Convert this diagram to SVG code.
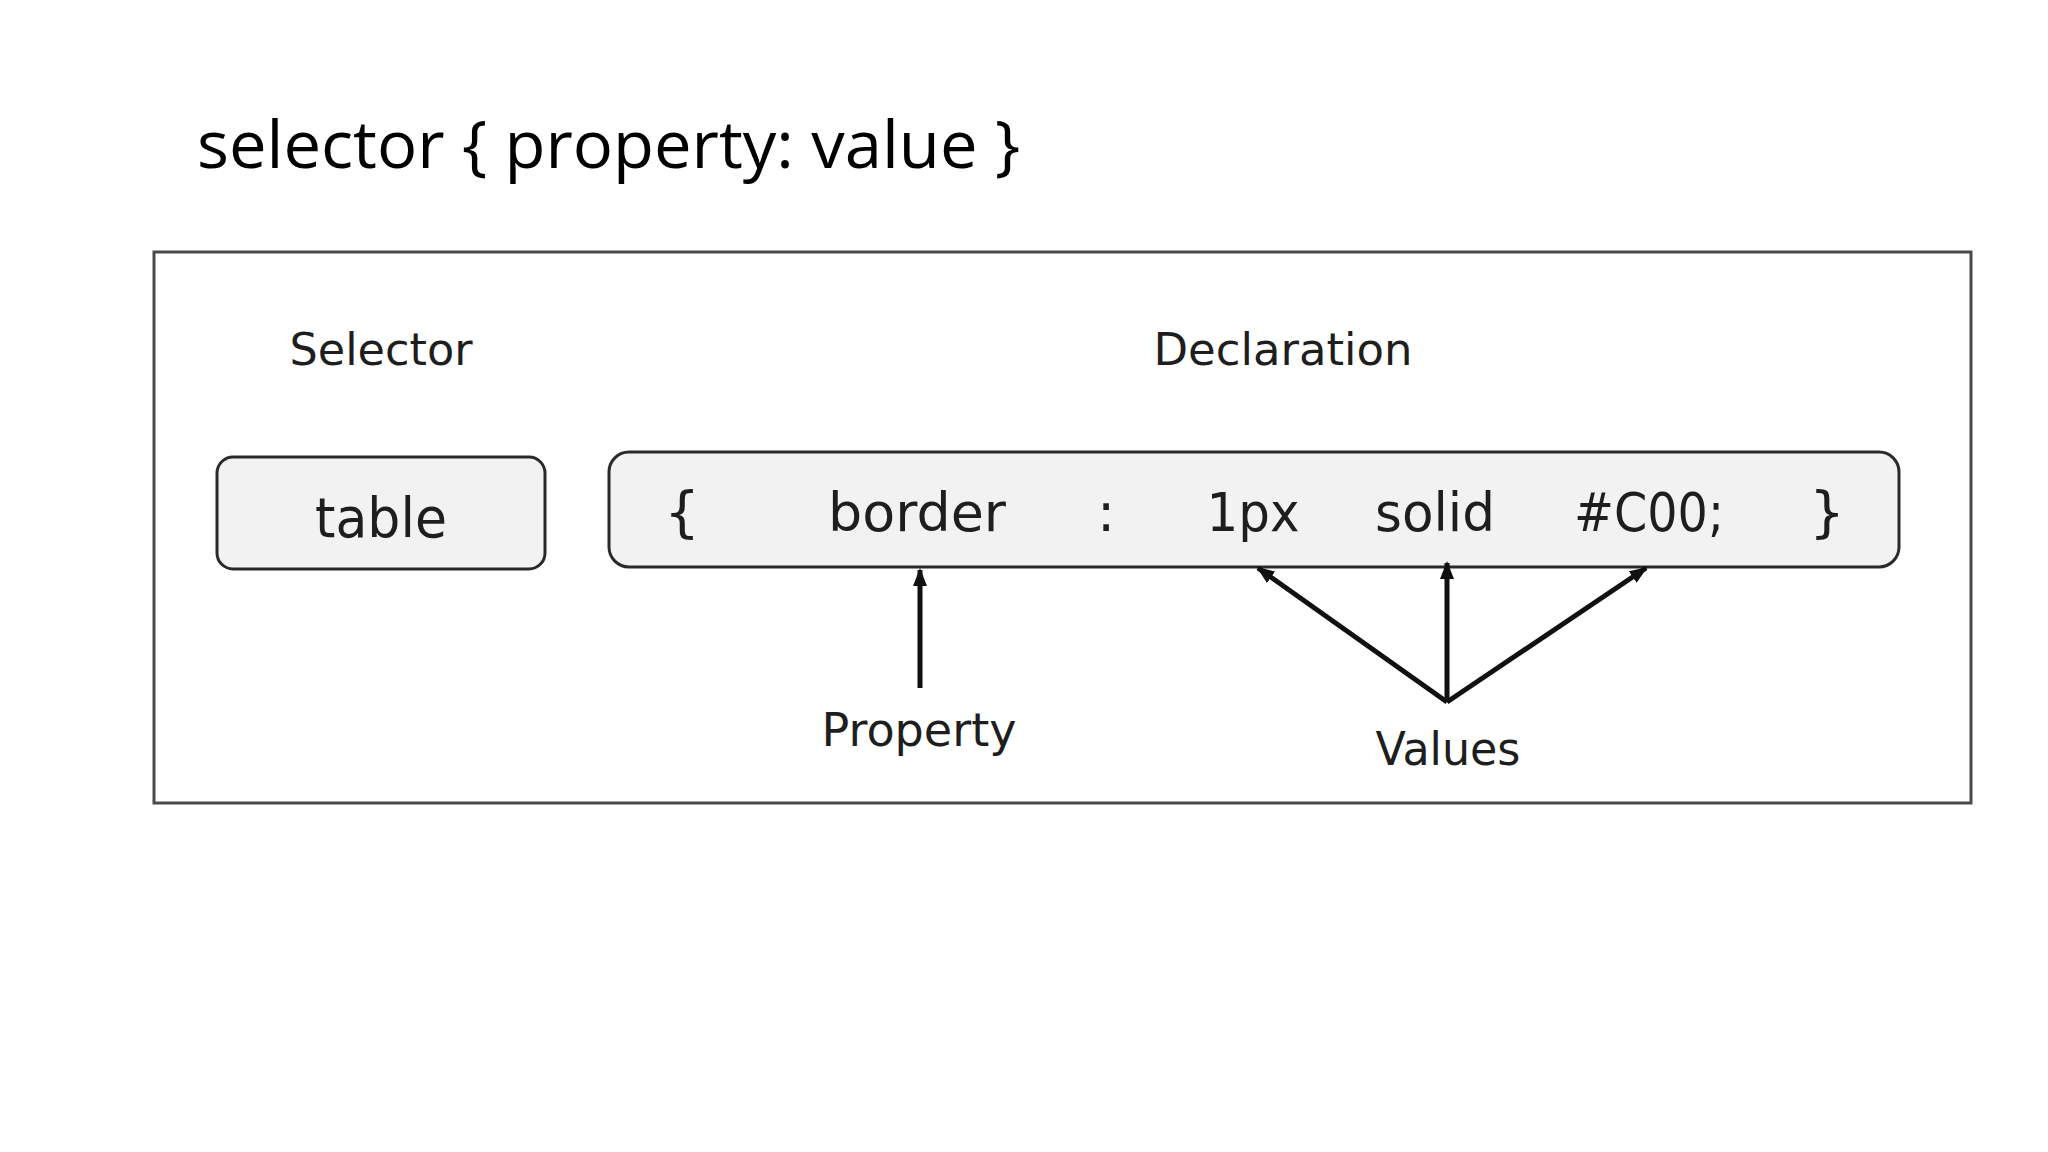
<svg xmlns="http://www.w3.org/2000/svg" width="2048" height="1152" viewBox="0 0 2048 1152">
<style>
.lbl{font-family:"DejaVu Sans","Liberation Sans",sans-serif;fill:#1e1e1e;text-anchor:middle}
.box{fill:#f2f2f2;stroke:#2a2a2a;stroke-width:3}
.con{stroke:#111;stroke-width:5;fill:none;marker-end:url(#ah)}
</style>
<defs>
<marker id="ah" markerUnits="userSpaceOnUse" markerWidth="18" markerHeight="18" viewBox="0 0 18 18" refX="16" refY="9" orient="auto">
<path d="M0,2 L18,9 L0,16 Z" fill="#111"/>
</marker>
</defs>
<rect width="2048" height="1152" fill="#ffffff"/>
<text id="title" x="197" y="168" font-family="Open Sans, Liberation Sans, sans-serif" font-size="66" fill="#000" textLength="823" lengthAdjust="spacingAndGlyphs">selector { property: value }</text>
<rect id="frame" x="154" y="252" width="1817" height="551" fill="#fff" stroke="#4a4a4a" stroke-width="3"/>
<g id="selector-label"><text class="lbl" x="381" y="365" font-size="45" textLength="183" lengthAdjust="spacingAndGlyphs">Selector</text></g>
<g id="declaration-label"><text class="lbl" x="1283" y="365" font-size="45" textLength="259" lengthAdjust="spacingAndGlyphs">Declaration</text></g>
<g id="table-node">
<rect class="box" x="217" y="457" width="328" height="112" rx="16"/>
<text class="lbl" x="381" y="537" font-size="55" textLength="132" lengthAdjust="spacingAndGlyphs">table</text>
</g>
<g id="declaration-node">
<rect class="box" x="609" y="452" width="1290" height="115" rx="20"/>
<text class="lbl" x="682" y="531" font-size="56">{</text>
<text class="lbl" x="917" y="531" font-size="54" textLength="178" lengthAdjust="spacingAndGlyphs">border</text>
<text class="lbl" x="1106" y="531" font-size="54">:</text>
<text class="lbl" x="1253" y="531" font-size="54" textLength="93" lengthAdjust="spacingAndGlyphs">1px</text>
<text class="lbl" x="1435" y="531" font-size="54" textLength="120" lengthAdjust="spacingAndGlyphs">solid</text>
<text class="lbl" x="1649" y="531" font-size="54" textLength="150" lengthAdjust="spacingAndGlyphs">#C00;</text>
<text class="lbl" x="1827" y="531" font-size="56">}</text>
</g>
<g id="property-label"><text class="lbl" x="919" y="746" font-size="46" textLength="195" lengthAdjust="spacingAndGlyphs">Property</text></g>
<g id="values-label"><text class="lbl" x="1448" y="765" font-size="46" textLength="145" lengthAdjust="spacingAndGlyphs">Values</text></g>
<g id="connectors">
<line class="con" x1="920" y1="688" x2="920" y2="570"/>
<line class="con" x1="1447" y1="702" x2="1258" y2="568"/>
<line class="con" x1="1447" y1="702" x2="1447" y2="563"/>
<line class="con" x1="1447" y1="702" x2="1646" y2="568"/>
</g>
</svg>
